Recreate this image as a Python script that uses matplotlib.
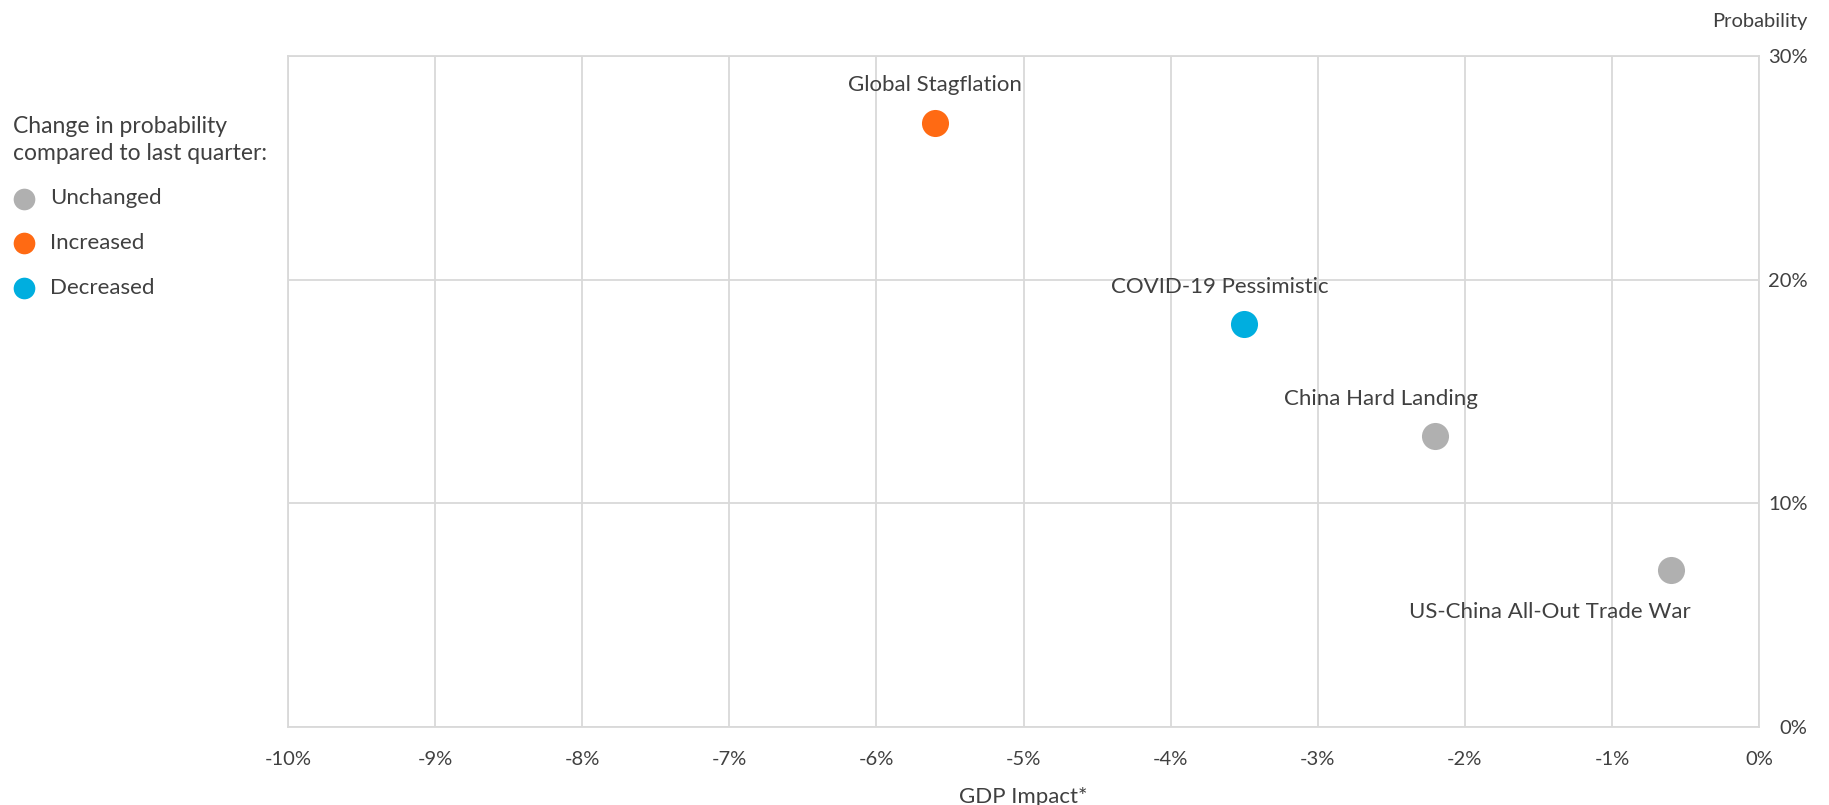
import matplotlib.pyplot as plt
from matplotlib.ticker import FuncFormatter

plt.rcParams['font.family'] = ['Lato', 'DejaVu Sans']
TXT = '#404040'

# scenarios: GDP impact (%), probability (%), change vs last quarter
scenarios = ['Global Stagflation', 'COVID-19 Pessimistic', 'China Hard Landing',
             'US-China All-Out Trade War']
gdp_impact = [-5.6, -3.5, -2.2, -0.6]
probability = [27, 18, 13, 7]
change = ['Increased', 'Decreased', 'Unchanged', 'Unchanged']

categories = ['Unchanged', 'Increased', 'Decreased']
cat_colors = {'Unchanged': '#B0B0B0', 'Increased': '#FF6A13', 'Decreased': '#00AEDF'}

# label offsets in pixels relative to each dot
label_offsets = [(0, 38), (-24, 37), (-54, 37), (-121, -42)]

fig = plt.figure(figsize=(18.29, 8.05), dpi=100)
ax = fig.add_axes([288 / 1829, 78 / 805, 1471 / 1829, 671 / 805])

for cat in categories:
    xs = [g for g, c in zip(gdp_impact, change) if c == cat]
    ys = [p for p, c in zip(probability, change) if c == cat]
    ax.scatter(xs, ys, s=380, color=cat_colors[cat], label=cat, zorder=3,
               linewidths=0)

for name, x, y, off in zip(scenarios, gdp_impact, probability, label_offsets):
    ax.annotate(name, (x, y), xytext=off, textcoords='offset pixels',
                ha='center', va='center', fontsize=16, color=TXT)

ax.set_xlim(-10, 0)
ax.set_ylim(0, 30)
ax.set_xticks(range(-10, 1))
ax.set_yticks([0, 10, 20, 30])
ax.xaxis.set_major_formatter(FuncFormatter(lambda v, p: f'{v:.0f}%'))
ax.yaxis.set_major_formatter(FuncFormatter(lambda v, p: f'{v:.0f}%'))
ax.yaxis.tick_right()
ax.tick_params(axis='both', length=0, labelsize=14.5, labelcolor=TXT)
ax.tick_params(axis='x', pad=17)
ax.tick_params(axis='y', pad=35)
for lab in ax.get_yticklabels():
    lab.set_horizontalalignment('right')

ax.grid(True, color='#D9D9D9', linewidth=1.3)
ax.set_axisbelow(True)
for sp in ax.spines.values():
    sp.set_color('#D9D9D9')
    sp.set_linewidth(1.3)

fig.text(1807 / 1829, 1 - 21 / 805, 'Probability', ha='right', va='center',
         fontsize=14.5, color=TXT)
fig.text(1023 / 1829, 1 - 797 / 805, 'GDP Impact*', ha='center', va='center',
         fontsize=16, color=TXT)

leg = fig.legend(loc='upper left', bbox_to_anchor=(0.001, 1 - 105 / 805),
                 frameon=False, title='Change in probability\ncompared to last quarter:',
                 alignment='left', fontsize=16, title_fontsize=16.5,
                 markerscale=0.8, handletextpad=0.68, labelspacing=1.12,
                 borderpad=0.2, handlelength=1.0, borderaxespad=0.3)
for t in leg.get_texts():
    t.set_color(TXT)
leg.get_title().set_color(TXT)
leg.get_title().set_linespacing(1.32)

fig.savefig('out.png', dpi=100)
